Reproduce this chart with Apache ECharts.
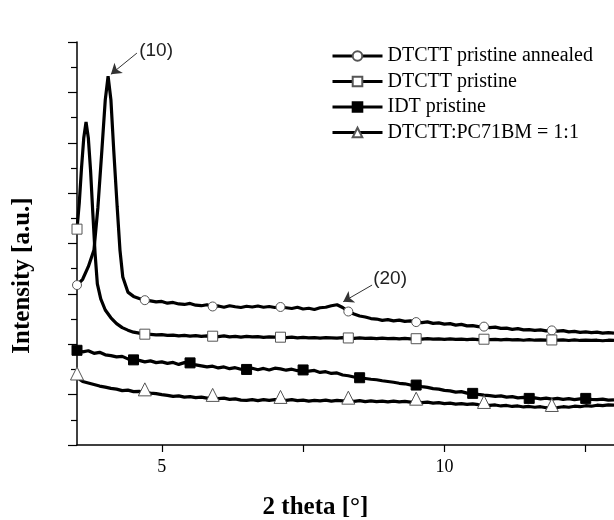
<!DOCTYPE html>
<html><head><meta charset="utf-8">
<script src="https://cdn.jsdelivr.net/npm/echarts@6/dist/echarts.min.js"></script>
<style>html,body{margin:0;padding:0;background:#fff}#c{width:614px;height:520px}</style>
</head><body><div id="c"></div>
<script>
const seriesNames = ['DTCTT pristine annealed', 'DTCTT pristine', 'IDT pristine', 'DTCTT:PC71BM = 1:1'];

const annealed = [[3.5,5.35],[3.6,5.58],[3.7,6.08],[3.8,6.74],[3.87,8.44],[3.94,10.7],[4.0,12.7],[4.05,13.64],[4.1,12.7],[4.15,10.7],[4.21,8.48],[4.26,6.74],[4.31,5.67],[4.4,5.07],[4.5,4.9],[4.6,4.82],[4.7,4.75],
[4.8,4.72],[4.9,4.68],[5.0,4.70],[5.1,4.63],[5.2,4.66],[5.3,4.60],[5.4,4.58],[5.5,4.62],[5.6,4.55],[5.7,4.53],[5.8,4.57],[5.9,4.50],[6.0,4.52],[6.1,4.47],[6.2,4.53],[6.3,4.49],[6.4,4.46],[6.5,4.51],[6.6,4.48],[6.7,4.52],[6.8,4.47],[6.9,4.50],[7.0,4.46],[7.1,4.48],[7.2,4.45],[7.3,4.42],[7.4,4.47],[7.5,4.40],[7.6,4.43],[7.7,4.38],[7.8,4.45],[7.9,4.47],[8.0,4.53],[8.1,4.57],[8.2,4.46],[8.3,4.30],[8.4,4.20],[8.5,4.12],[8.6,4.08],[8.7,4.02],[8.8,4.00],[8.9,3.95],[9.0,3.98],[9.1,3.93],[9.2,3.96],[9.3,3.91],[9.4,3.93],[9.5,3.88],[9.6,3.86],[9.7,3.89],[9.8,3.83],[9.9,3.85],[10.0,3.80],[10.1,3.82],[10.2,3.76],[10.3,3.79],[10.4,3.73],[10.5,3.74],[10.6,3.70],[10.7,3.70],[10.8,3.66],[10.9,3.68],[11.0,3.63],[11.1,3.64],[11.2,3.59],[11.3,3.62],[11.4,3.57],[11.5,3.58],[11.6,3.55],[11.7,3.57],[11.8,3.53],[11.9,3.55],[12.0,3.52],[12.1,3.54],[12.2,3.49],[12.3,3.51],[12.4,3.47],[12.5,3.49],[12.6,3.46],[12.7,3.48],[12.8,3.44],[12.9,3.46],[13.0,3.44]];

const pristine = [[3.5,7.57],[3.54,8.6],[3.58,10.0],[3.62,11.2],[3.66,11.82],[3.7,11.2],[3.74,9.9],[3.78,8.2],[3.82,6.6],[3.86,5.4],[3.92,4.8],[4.0,4.36],[4.1,4.05],[4.2,3.82],[4.3,3.66],[4.4,3.56],[4.5,3.48],[4.6,3.44],[4.7,3.40],
[4.8,3.39],[4.9,3.37],[5.0,3.38],[5.1,3.35],[5.2,3.36],[5.3,3.33],[5.4,3.35],[5.5,3.32],[5.6,3.34],[5.7,3.31],[5.8,3.33],[5.9,3.32],[6.0,3.30],[6.1,3.33],[6.2,3.29],[6.3,3.31],[6.4,3.28],[6.5,3.31],[6.6,3.29],[6.7,3.30],[6.8,3.27],[6.9,3.29],[7.0,3.28],[7.1,3.28],[7.2,3.26],[7.3,3.28],[7.4,3.25],[7.5,3.27],[7.6,3.25],[7.7,3.26],[7.8,3.24],[7.9,3.26],[8.0,3.25],[8.1,3.24],[8.2,3.26],[8.3,3.25],[8.4,3.23],[8.5,3.25],[8.6,3.23],[8.7,3.24],[8.8,3.22],[8.9,3.24],[9.0,3.22],[9.1,3.23],[9.2,3.21],[9.3,3.23],[9.4,3.21],[9.5,3.22],[9.6,3.20],[9.7,3.22],[9.8,3.20],[9.9,3.21],[10.0,3.19],[10.1,3.21],[10.2,3.19],[10.3,3.20],[10.4,3.18],[10.5,3.20],[10.6,3.18],[10.7,3.20],[10.8,3.18],[10.9,3.19],[11.0,3.17],[11.1,3.19],[11.2,3.17],[11.3,3.18],[11.4,3.16],[11.5,3.18],[11.6,3.16],[11.7,3.17],[11.8,3.16],[11.9,3.17],[12.0,3.16],[12.1,3.17],[12.2,3.15],[12.3,3.17],[12.4,3.15],[12.5,3.16],[12.6,3.15],[12.7,3.16],[12.8,3.14],[12.9,3.16],[13.0,3.15]];

const idt = [[3.5,2.76],[3.6,2.70],[3.7,2.74],[3.8,2.64],[3.9,2.68],[4.0,2.58],[4.1,2.55],[4.2,2.50],[4.3,2.52],[4.4,2.42],[4.5,2.38],[4.6,2.36],[4.7,2.30],[4.8,2.34],[4.9,2.27],[5.0,2.30],[5.1,2.24],[5.2,2.28],[5.3,2.20],[5.4,2.27],[5.5,2.26],[5.6,2.18],[5.7,2.14],[5.8,2.10],[5.9,2.13],[6.0,2.06],[6.1,2.10],[6.2,2.03],[6.3,2.07],[6.4,2.01],[6.5,2.00],[6.6,2.05],[6.7,1.99],[6.8,2.04],[6.9,1.98],[7.0,2.05],[7.1,2.02],[7.2,1.97],[7.3,2.01],[7.4,1.95],[7.5,1.98],[7.6,1.93],[7.7,1.96],[7.8,1.88],[7.9,1.91],[8.0,1.84],[8.1,1.86],[8.2,1.78],[8.3,1.75],[8.4,1.70],[8.5,1.67],[8.6,1.64],[8.7,1.61],[8.8,1.59],[8.9,1.55],[9.0,1.52],[9.1,1.49],[9.2,1.45],[9.3,1.43],[9.4,1.38],[9.5,1.38],[9.6,1.32],[9.7,1.29],[9.8,1.24],[9.9,1.22],[10.0,1.17],[10.1,1.15],[10.2,1.10],[10.3,1.12],[10.4,1.06],[10.5,1.05],[10.6,1.01],[10.7,0.98],[10.8,0.96],[10.9,0.93],[11.0,0.95],[11.1,0.90],[11.2,0.92],[11.3,0.87],[11.4,0.89],[11.5,0.85],[11.6,0.87],[11.7,0.83],[11.8,0.86],[11.9,0.82],[12.0,0.85],[12.1,0.81],[12.2,0.84],[12.3,0.80],[12.4,0.83],[12.5,0.85],[12.6,0.81],[12.7,0.80],[12.8,0.82],[12.9,0.78],[13.0,0.79]];

const blend = [[3.5,1.72],[3.55,1.60],[3.6,1.52],[3.7,1.46],[3.8,1.40],[3.9,1.34],[4.0,1.30],[4.1,1.25],[4.2,1.22],[4.3,1.16],[4.4,1.18],[4.5,1.12],[4.6,1.13],[4.7,1.09],[4.8,1.06],[4.9,1.04],[5.0,1.00],[5.1,0.97],[5.2,0.93],[5.3,0.95],[5.4,0.90],[5.5,0.92],[5.6,0.88],[5.7,0.90],[5.8,0.86],[5.9,0.87],[6.0,0.84],[6.1,0.86],[6.2,0.81],[6.3,0.83],[6.4,0.78],[6.5,0.77],[6.6,0.80],[6.7,0.76],[6.8,0.80],[6.9,0.77],[7.0,0.80],[7.1,0.79],[7.2,0.77],[7.3,0.80],[7.4,0.76],[7.5,0.78],[7.6,0.74],[7.7,0.77],[7.8,0.75],[7.9,0.78],[8.0,0.74],[8.1,0.77],[8.2,0.75],[8.3,0.76],[8.4,0.73],[8.5,0.76],[8.6,0.72],[8.7,0.75],[8.8,0.72],[8.9,0.74],[9.0,0.71],[9.1,0.74],[9.2,0.71],[9.3,0.73],[9.4,0.70],[9.5,0.72],[9.6,0.68],[9.7,0.70],[9.8,0.66],[9.9,0.68],[10.0,0.64],[10.1,0.66],[10.2,0.62],[10.3,0.64],[10.4,0.61],[10.5,0.63],[10.6,0.60],[10.7,0.59],[10.8,0.57],[10.9,0.59],[11.0,0.55],[11.1,0.57],[11.2,0.53],[11.3,0.55],[11.4,0.51],[11.5,0.53],[11.6,0.50],[11.7,0.52],[11.8,0.48],[11.9,0.47],[12.0,0.49],[12.1,0.52],[12.2,0.50],[12.3,0.54],[12.4,0.52],[12.5,0.56],[12.6,0.54],[12.7,0.58],[12.8,0.56],[12.9,0.59],[13.0,0.58]];

const annealedMarks = [3.5, 4.7, 5.9, 7.1, 8.3, 9.5, 10.7, 11.9];
const pristineMarks = [3.5, 4.7, 5.9, 7.1, 8.3, 9.5, 10.7, 11.9];
const idtMarks = [3.5, 4.5, 5.5, 6.5, 7.5, 8.5, 9.5, 10.5, 11.5, 12.5];
const blendMarks = [3.5, 4.7, 5.9, 7.1, 8.3, 9.5, 10.7, 11.9];

const xTickValues = [5, 7.5, 10, 12.5];
const xLabelValues = [5, 10];

const peakLabels = ['(10)', '(20)'];
const peakLabelAt = [[4.60, 14.67], [8.74, 5.59]];
const arrowFrom = [[4.56, 14.56], [8.72, 5.35]];
const arrowTo = [[4.10, 13.72], [8.21, 4.69]];

const SERIF = '"Liberation Serif", "Times New Roman", serif';
const SANS = '"Liberation Sans", Arial, sans-serif';

function withMarks(points, marks) {
  return points.map(p => {
    const isMark = marks.some(m => Math.abs(m - p[0]) < 1e-6);
    return isMark ? { value: p } : { value: p, symbol: 'none' };
  });
}

function lineSeries(name, points, marks, symbol, size, fill, border, offset) {
  return {
    name, type: 'line', data: withMarks(points, marks),
    symbol, symbolSize: size, symbolOffset: offset || [0, 0],
    showSymbol: true, showAllSymbol: true, clip: true,
    lineStyle: { color: '#000', width: 3.2 },
    itemStyle: { color: fill, borderColor: border, borderWidth: 1 },
    emphasis: { disabled: true }, silent: true
  };
}

const chart = echarts.init(document.getElementById('c'), null, { renderer: 'canvas' });

const s1 = lineSeries(seriesNames[0], annealed, annealedMarks, 'circle', 9, '#fff', '#555');
s1.markLine = {
  silent: true, symbol: ['none', 'arrow'], symbolSize: 10,
  lineStyle: { color: '#333', width: 1, type: 'solid' },
  label: { show: false }, emphasis: { disabled: true },
  data: arrowFrom.map((f, i) => [{ coord: f }, { coord: arrowTo[i] }])
};
s1.markPoint = {
  silent: true, symbol: 'circle', symbolSize: 0,
  label: { show: true, position: 'right', distance: 0, color: '#222', fontFamily: SANS, fontSize: 19, formatter: p => p.name },
  data: peakLabelAt.map((c, i) => ({ coord: c, name: peakLabels[i] }))
};

const option = {
  animation: false,
  backgroundColor: '#fff',
  grid: { left: 77, right: 0, top: 42, bottom: 75, containLabel: false, outerBoundsMode: 'none' },
  legend: {
    data: seriesNames, orient: 'vertical', left: 331, top: 46, padding: 0,
    itemWidth: 50, itemHeight: 12, itemGap: 5.5,
    lineStyle: { width: 3 },
    textStyle: { fontFamily: SERIF, fontSize: 20, color: '#000', lineHeight: 20 }
  },
  xAxis: {
    type: 'value', min: 3.5, max: 13,
    name: '2 theta [°]', nameLocation: 'middle', nameGap: 50,
    nameTextStyle: { fontFamily: SERIF, fontSize: 25, fontWeight: 'bold', color: '#000', padding: [0, 60, 0, 0] },
    axisLine: { show: true, onZero: false, lineStyle: { color: '#000', width: 1.5 } },
    axisTick: { show: true, inside: false, length: 7, customValues: xTickValues, lineStyle: { color: '#000', width: 1.2 } },
    axisLabel: { show: true, customValues: xLabelValues, margin: 13, fontFamily: SERIF, fontSize: 18, color: '#000' },
    splitLine: { show: false }
  },
  yAxis: {
    type: 'value', min: -1, max: 15, interval: 2,
    name: 'Intensity [a.u.]', nameLocation: 'middle', nameGap: 42,
    nameTextStyle: { fontFamily: SERIF, fontSize: 25, fontWeight: 'bold', color: '#000', padding: [0, 64, 0, 0] },
    axisLine: { show: true, onZero: false, lineStyle: { color: '#000', width: 1.5 } },
    axisTick: { show: true, inside: false, length: 9, lineStyle: { color: '#000', width: 1.2 } },
    minorTick: { show: true, splitNumber: 2, length: 6, lineStyle: { color: '#000', width: 1.2 } },
    axisLabel: { show: false },
    splitLine: { show: false }
  },
  series: [
    s1,
    lineSeries(seriesNames[1], pristine, pristineMarks, 'rect', 10, '#fff', '#555'),
    lineSeries(seriesNames[2], idt, idtMarks, 'rect', 10, '#000', '#000'),
    lineSeries(seriesNames[3], blend, blendMarks, 'triangle', 13, '#fff', '#555', [0, -3])
  ]
};
chart.setOption(option);
</script>
</body></html>
